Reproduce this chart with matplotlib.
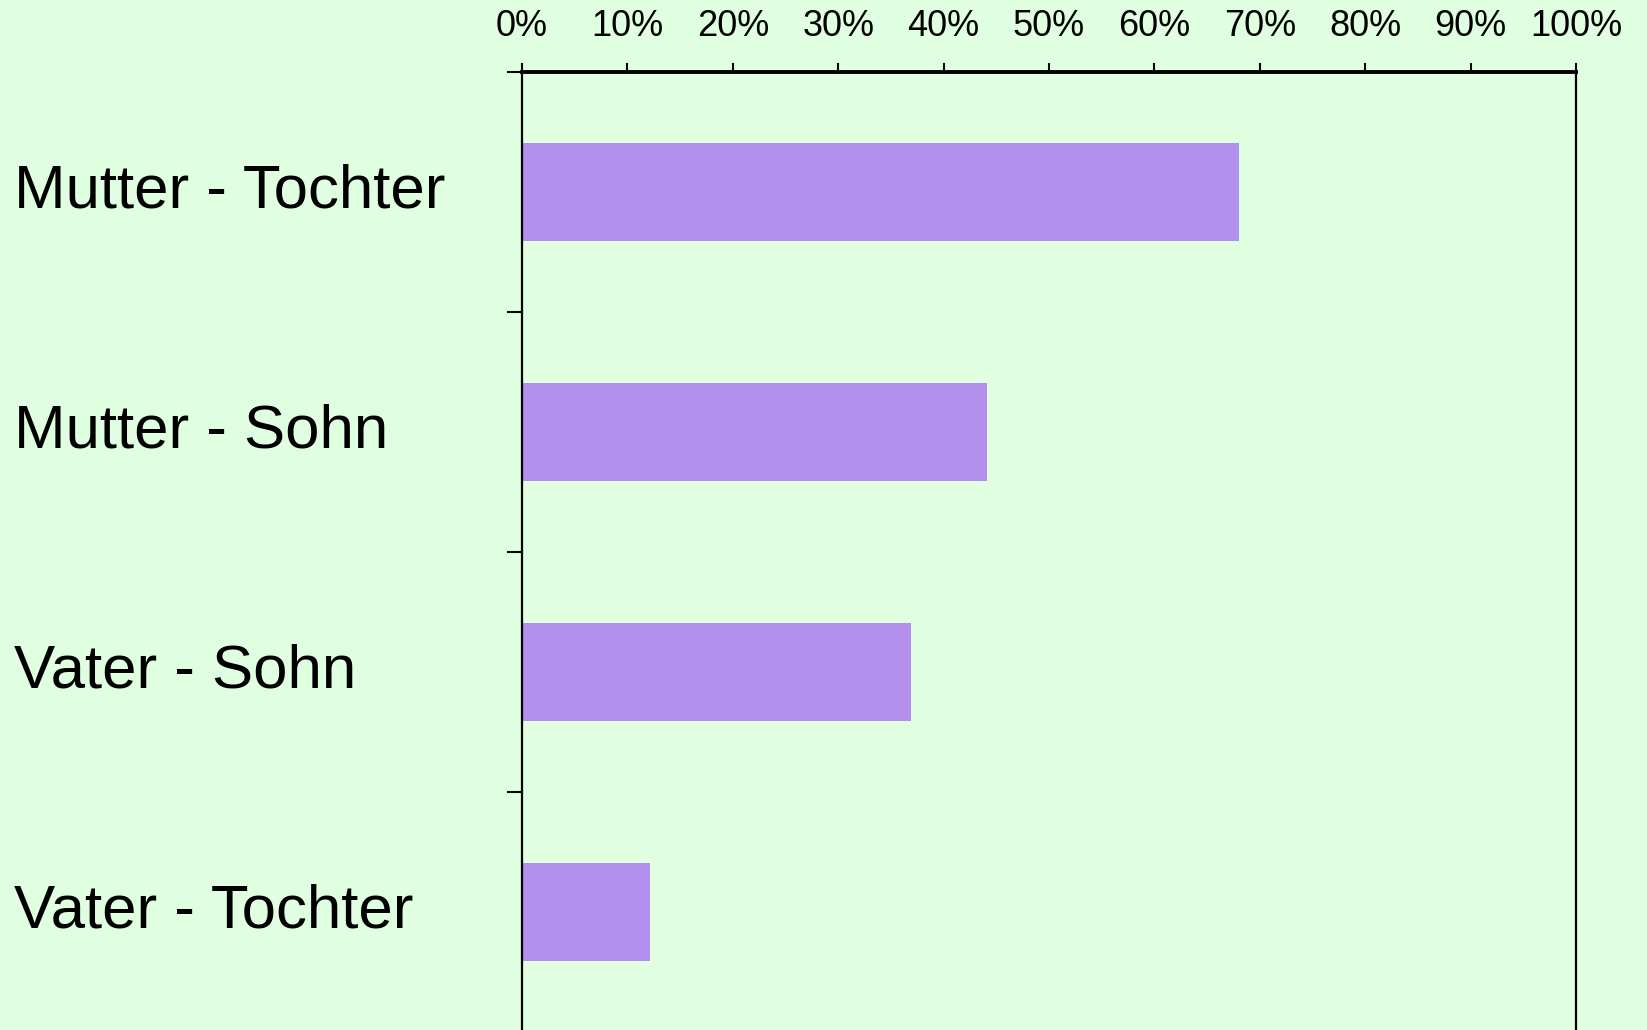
import matplotlib
matplotlib.use('Agg')
import matplotlib.pyplot as plt
import matplotlib.transforms as mtransforms
from matplotlib.ticker import PercentFormatter

plt.rcParams['font.family'] = ['Liberation Sans', 'DejaVu Sans']

categories = ['Mutter - Tochter', 'Mutter - Sohn', 'Vater - Sohn', 'Vater - Tochter']
values = [68.0, 44.1, 36.9, 12.1]
x_ticks = [0, 10, 20, 30, 40, 50, 60, 70, 80, 90, 100]

bg = '#E0FFE0'
bar_color = '#B38FEE'

fig = plt.figure(figsize=(16.47, 10.30), dpi=100, facecolor=bg)
# axes box: bottom edge sits just below the figure edge, as in the original
ax = fig.add_axes([522 / 1647, -2 / 1030, 1054 / 1647, 960 / 1030])
ax.set_facecolor(bg)

pos = list(range(len(categories)))
ax.barh(pos, values, height=0.41, color=bar_color, zorder=2)

ax.set_xlim(0, 100)
ax.set_ylim(len(categories) - 0.5, -0.5)

# x axis on top
ax.xaxis.tick_top()
ax.set_xticks(x_ticks)
ax.xaxis.set_major_formatter(PercentFormatter(decimals=0))
ax.tick_params(axis='x', direction='out', length=6.2, width=1.5, pad=14,
               labelsize=26, colors='black')

# category separators as y ticks, labels drawn separately
ax.set_yticks([p - 0.5 for p in pos] + [len(categories) - 0.5])
ax.set_yticklabels([])
ax.tick_params(axis='y', direction='out', length=10.8, width=1.5)

for side in ['left', 'right', 'bottom']:
    ax.spines[side].set_linewidth(1.6)
ax.spines['top'].set_linewidth(2.8)

trans = mtransforms.blended_transform_factory(fig.transFigure, ax.transData)
for p, name in zip(pos, categories):
    ax.text(14 / 1647, p, name, transform=trans, ha='left', va='center',
            fontsize=44.5, color='black')

fig.savefig('out.png', dpi=100, facecolor=bg)
